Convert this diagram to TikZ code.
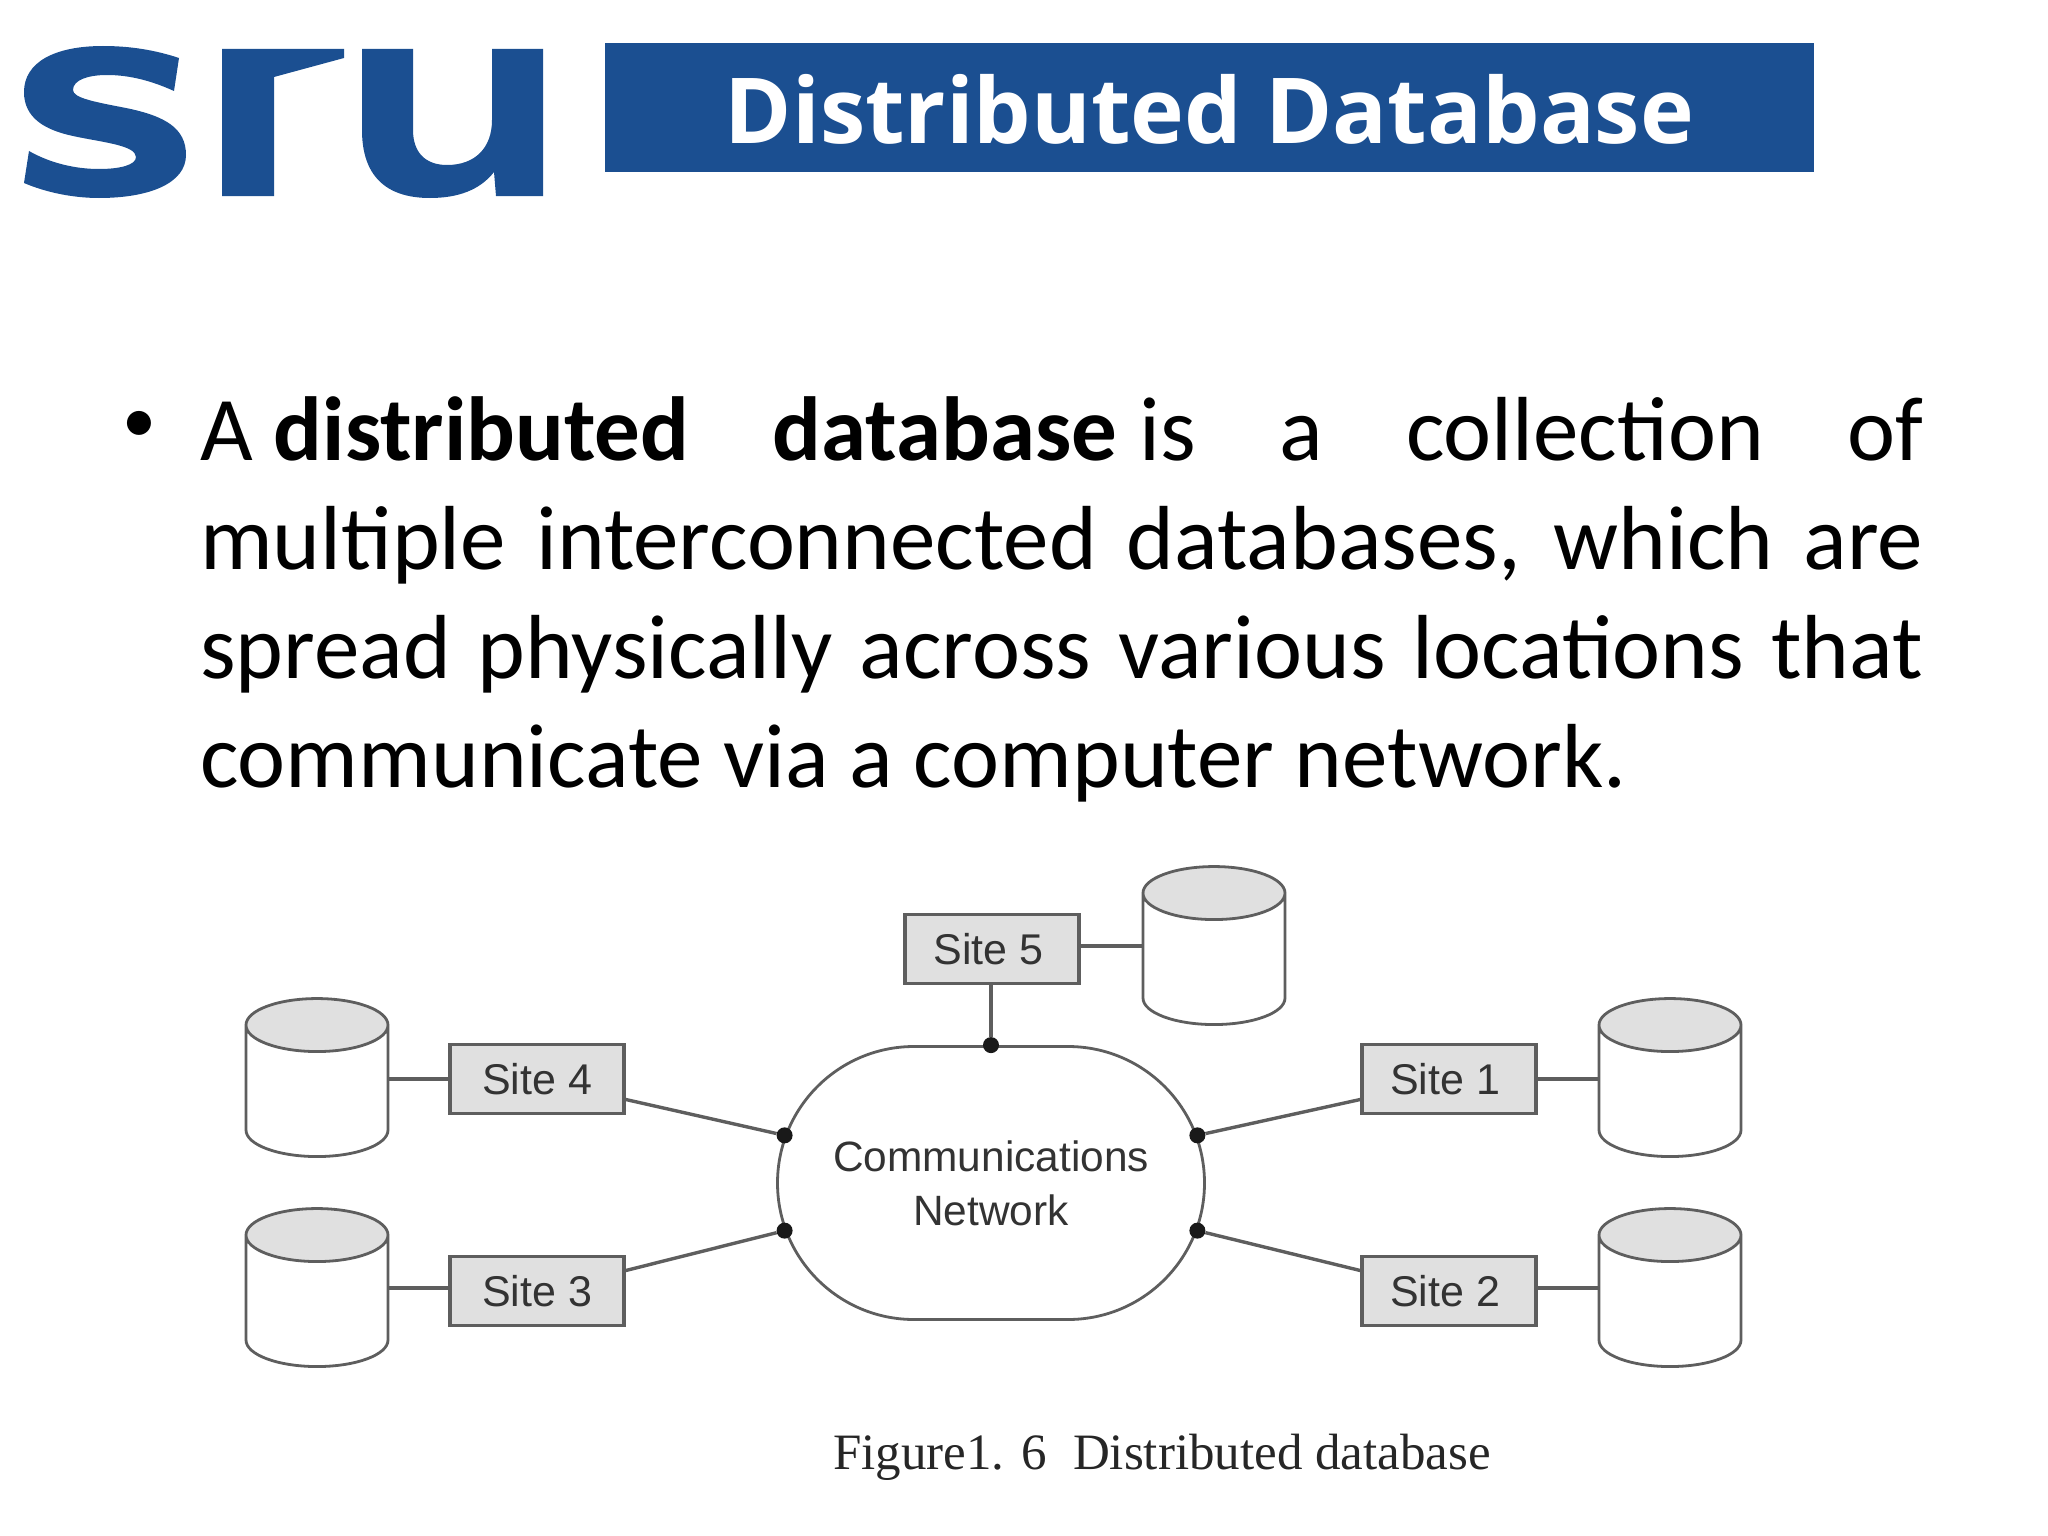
\documentclass[tikz,border=0pt]{standalone}
\usepackage{fontspec}
\setmainfont{Carlito}
\newfontfamily\titlefont{Open Sans}
\newfontfamily\figfont{Liberation Sans}
\newfontfamily\capfont{Liberation Serif}
\usepackage{xcolor}
\usepackage{tikz}
\usetikzlibrary{positioning,calc,shapes.geometric,shapes.misc}
\definecolor{srublue}{HTML}{1B4F91}
\definecolor{figline}{HTML}{5E5E5E}
\definecolor{figfill}{HTML}{E0E0E0}
\definecolor{figtext}{HTML}{333333}

\begin{document}
\begin{tikzpicture}[
  x=1pt,y=-1pt,
  sitebox/.style={draw=figline,fill=figfill,line width=3.4pt,minimum width=174pt,minimum height=69pt,
            inner sep=0pt,text=figtext,font=\figfont\fontsize{43}{50}\selectfont},
  db/.style={cylinder,shape border rotate=90,shape aspect=1,draw=figline,line width=2.8pt,
            cylinder uses custom fill,cylinder end fill=figfill,cylinder body fill=white,
            minimum width=142pt,minimum height=158pt,inner sep=0pt,
            execute at begin node=\hspace*{53pt}},
  net/.style={rounded rectangle,draw=figline,line width=2.8pt,fill=white,minimum width=427pt,
            minimum height=273pt,inner sep=0pt,text=figtext,align=center,
            font=\figfont\fontsize{42.4}{54}\selectfont},
  dotn/.style={circle,fill=black!90,minimum size=16pt,inner sep=0pt},
  a/.style={figline,line width=3.4pt}]
\useasboundingbox (0,0) rectangle (2048,1536);
% logo
\fill[srublue] (179,58) .. controls (155,50) and (130,46) .. (103,46)
  .. controls (55,46) and (24,62) .. (24,92)
  .. controls (24,118) and (45,130) .. (73,136)
  .. controls (100,142) and (136,145) .. (136,157)
  .. controls (136,165) and (120,169) .. (99,169)
  .. controls (75,169) and (50,163) .. (29,151) -- (24,183)
  .. controls (45,192) and (72,198) .. (99,198)
  .. controls (150,198) and (186,183) .. (186,155)
  .. controls (186,128) and (165,116) .. (126,108)
  .. controls (95,102) and (73,98) .. (73,90)
  .. controls (73,80) and (88,75) .. (107,75)
  .. controls (130,75) and (152,81) .. (174,91) -- cycle;
\fill[srublue] (222,49) -- (344,49) -- (344,58) -- (274,77) -- (274,196) -- (222,196) -- cycle;
\fill[srublue] (362,49) -- (413,49) -- (413,130)
  .. controls (413,152) and (425,165) .. (447,165)
  .. controls (475,165) and (492,148) .. (492,120) -- (492,49) -- (543,49) -- (543,196)
  -- (496,196) -- (494,172) .. controls (480,190) and (458,198) .. (430,198)
  .. controls (385,198) and (362,175) .. (362,130) -- cycle;
% title bar
\node[fill=srublue,minimum width=1209pt,minimum height=129pt,inner sep=0pt,text=white,
      font=\titlefont\bfseries\fontsize{91}{100}\selectfont] (title) at (1209.5,107.5)
  {\raisebox{-36pt}[0pt][0pt]{Distributed Database}};
% body text
\node[font=\fontsize{68}{80}\selectfont,inner sep=0pt] (bull) at (139,427) {•};
\node[anchor=north west,inner sep=0pt,text width=1723pt,align=justify,
      font=\fontsize{91}{109}\selectfont] (body) at (200,396)
  {A\hspace{21pt}\textbf{distributed database}\hspace{22pt}is a collection of\linebreak
   multiple interconnected databases, which are\linebreak
   spread physically across various locations that\linebreak
   communicate via a computer network.};
% figure
\node[net] (cn) at (991,1183) {Communications\\Network};
\node[dotn] (d4) at (cn.167) {};
\node[dotn] (d3) at (cn.193) {};
\node[dotn] (d1) at (cn.13) {};
\node[dotn] (d2) at (cn.-13) {};
\node[dotn] (d5) at (cn.north) {};
\node[sitebox] (s5) at (992,949) {Site 5\kern7pt};
\node[sitebox] (s4) at (537,1079) {Site 4};
\node[sitebox] (s3) at (537,1291) {Site 3};
\node[sitebox] (s1) at (1449,1079) {Site 1\kern8pt};
\node[sitebox] (s2) at (1449,1291) {Site 2\kern8pt};
\node[db] (db5) at (1214,959.5) {};
\node[db] (db4) at (317,1091.5) {};
\node[db] (db3) at (317,1301.5) {};
\node[db] (db1) at (1670,1091.5) {};
\node[db] (db2) at (1670,1301.5) {};
\draw[a] (d5)--(d5|-s5.south);
\draw[a] (s4.-13)--(d4); \draw[a] (s3.13)--(d3);
\draw[a] (s1.193)--(d1); \draw[a] (s2.167)--(d2);
\draw[a] (s4.west)--(s4.west-|db4.0); \draw[a] (s3.178)--(s3.178-|db3.0);
\draw[a] (s1.east)--(s1.east-|db1.180); \draw[a] (s2.2)--(s2.2-|db2.180);
\draw[a] (s5.2)--(s5.2-|db5.180);
\node[font=\capfont\fontsize{51}{60}\selectfont,text=black!85,inner sep=0pt] (cap) at (1162,1457)
  {Figure1. 6\hspace{26pt}Distributed database};
\end{tikzpicture}
\end{document}
